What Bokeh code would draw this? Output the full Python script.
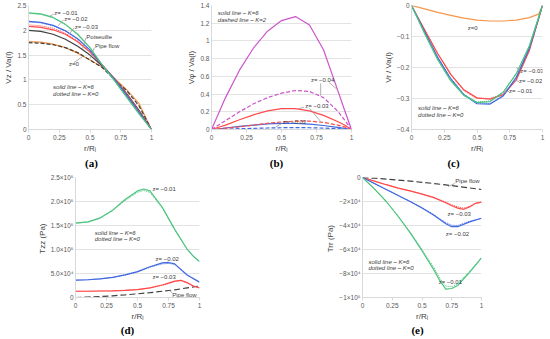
from bokeh.plotting import figure
from bokeh.layouts import row, column
from bokeh.models import Label, FixedTicker, Range1d, Spacer
from bokeh.core.properties import value
from bokeh.embed import file_html
from bokeh.resources import INLINE

FONT = "Liberation Sans"
GREEN = "#4cc47f"
BLUE = "#4169e1"
RED = "#ff4a4a"
ORANGE = "#f7964a"
MAGENTA = "#cc55cc"
DARK = "#404040"

X_TICKS = [0, 0.25, 0.5, 0.75, 1]
X_TICK_LABELS = ["0", "0.25", "0.5", "0.75", "1"]

# ---------------- (a) Vz / Va(l) ----------------
a_r = [0, 0.1, 0.2, 0.3, 0.4, 0.5, 0.6, 0.7, 0.8, 0.9, 1.0]
a_z001_k6 = [2.35, 2.33, 2.26, 2.12, 1.92, 1.65, 1.30, 0.98, 0.64, 0.31, 0]
a_z001_k0 = [2.34, 2.32, 2.25, 2.11, 1.91, 1.64, 1.30, 0.99, 0.65, 0.32, 0]
a_z002_k6 = [2.18, 2.16, 2.10, 1.99, 1.83, 1.60, 1.30, 1.01, 0.68, 0.34, 0]
a_z002_k0 = [2.17, 2.15, 2.09, 1.98, 1.82, 1.60, 1.30, 1.01, 0.69, 0.35, 0]
a_z003_k6 = [2.08, 2.06, 2.01, 1.92, 1.77, 1.56, 1.30, 1.02, 0.70, 0.36, 0]
a_z003_k0 = [2.11, 2.09, 2.04, 1.94, 1.78, 1.57, 1.30, 1.02, 0.70, 0.36, 0]
a_poiseuille = [2.0, 1.98, 1.92, 1.82, 1.68, 1.50, 1.28, 1.02, 0.72, 0.38, 0]
a_pipe = [1.75, 1.74, 1.71, 1.65, 1.55, 1.40, 1.25, 1.00, 0.78, 0.47, 0]
a_z0 = [1.77, 1.76, 1.72, 1.65, 1.54, 1.40, 1.26, 1.03, 0.80, 0.52, 0]
a_yticks = [0, 0.5, 1, 1.5, 2, 2.5]
a_ylabels = ["0", "0.5", "1", "1.5", "2", "2.5"]

# ---------------- (b) Vphi / Va(l) ----------------
b_r = [0, 0.05, 0.1, 0.2, 0.3, 0.4, 0.5, 0.6, 0.7, 0.8, 0.9, 0.95, 1.0]
b_z004_k6 = [0, 0.18, 0.36, 0.67, 0.92, 1.11, 1.23, 1.275, 1.18, 0.90, 0.45, 0.22, 0]
b_z004_k2 = [0, 0.05, 0.10, 0.20, 0.29, 0.36, 0.41, 0.44, 0.43, 0.36, 0.21, 0.11, 0]
b_z003_k6 = [0, 0.025, 0.05, 0.11, 0.165, 0.21, 0.235, 0.235, 0.21, 0.16, 0.09, 0.05, 0]
b_z003_k2 = [0, 0.007, 0.015, 0.03, 0.05, 0.07, 0.085, 0.095, 0.095, 0.08, 0.05, 0.03, 0]
b_z002_k6 = [0, 0.008, 0.017, 0.035, 0.05, 0.063, 0.07, 0.068, 0.06, 0.045, 0.025, 0.013, 0]
b_z002_k2 = [0, 0.002, 0.004, 0.009, 0.013, 0.017, 0.02, 0.021, 0.02, 0.016, 0.01, 0.005, 0]
b_yticks = [0, 0.2, 0.4, 0.6, 0.8, 1.0, 1.2, 1.4]
b_ylabels = ["0", "0.2", "0.4", "0.6", "0.8", "1", "1.2", "1.4"]

# ---------------- (c) Vr / Va(l) ----------------
c_r = [0, 0.1, 0.2, 0.3, 0.4, 0.5, 0.6, 0.7, 0.8, 0.9, 1.0]
c_r0 = [0, 0.1, 0.2, 0.3, 0.4, 0.5, 0.6, 0.7, 0.8, 0.9, 0.97, 1.0]
c_z0 = [0, -0.011, -0.022, -0.032, -0.041, -0.047, -0.050, -0.050, -0.047, -0.039, -0.028, 0]
c_z001_k6 = [0, -0.09, -0.175, -0.243, -0.29, -0.313, -0.31, -0.28, -0.22, -0.13, 0]
c_z001_k0 = [0, -0.089, -0.173, -0.241, -0.288, -0.311, -0.308, -0.279, -0.22, -0.13, 0]
c_z002_k6 = [0, -0.085, -0.168, -0.237, -0.288, -0.317, -0.318, -0.292, -0.232, -0.137, 0]
c_z002_k0 = [0, -0.084, -0.166, -0.235, -0.286, -0.315, -0.316, -0.29, -0.231, -0.137, 0]
c_z003_k6 = [0, -0.078, -0.155, -0.222, -0.272, -0.298, -0.302, -0.288, -0.24, -0.145, 0]
c_z003_k0 = [0, -0.079, -0.157, -0.224, -0.275, -0.300, -0.300, -0.285, -0.236, -0.143, 0]
c_yticks = [-0.4, -0.3, -0.2, -0.1, 0]
c_ylabels = ["\u22120.4", "\u22120.3", "\u22120.2", "\u22120.1", "0"]

# ---------------- (d) Tzz (Pa) ----------------
d_r1 = [0, 0.1, 0.2, 0.3, 0.4, 0.5, 0.55, 0.6, 0.7, 0.8, 0.9, 0.95, 1.0]
d_z001_k6 = [1.55e5, 1.575e5, 1.66e5, 1.82e5, 2.04e5, 2.22e5, 2.26e5, 2.22e5, 1.88e5, 1.42e5, 1.01e5, 0.86e5, 0.75e5]
d_z001_k0 = [1.55e5, 1.57e5, 1.65e5, 1.81e5, 2.02e5, 2.19e5, 2.23e5, 2.19e5, 1.86e5, 1.41e5, 1.0e5, 0.86e5, 0.75e5]
d_r2 = [0, 0.1, 0.2, 0.3, 0.4, 0.5, 0.6, 0.7, 0.75, 0.8, 0.9, 1.0]
d_z002_k6 = [0.36e5, 0.37e5, 0.39e5, 0.42e5, 0.47e5, 0.54e5, 0.64e5, 0.72e5, 0.73e5, 0.70e5, 0.47e5, 0.32e5]
d_z002_k0 = [0.36e5, 0.37e5, 0.39e5, 0.42e5, 0.47e5, 0.53e5, 0.63e5, 0.70e5, 0.71e5, 0.69e5, 0.47e5, 0.32e5]
d_r3 = [0, 0.1, 0.2, 0.3, 0.4, 0.5, 0.6, 0.7, 0.75, 0.8, 0.85, 0.9, 0.95, 1.0]
d_z003_k6 = [0.13e5, 0.13e5, 0.135e5, 0.14e5, 0.15e5, 0.165e5, 0.20e5, 0.26e5, 0.30e5, 0.34e5, 0.36e5, 0.31e5, 0.24e5, 0.20e5]
d_z003_k0 = [0.13e5, 0.13e5, 0.135e5, 0.14e5, 0.15e5, 0.165e5, 0.20e5, 0.255e5, 0.29e5, 0.33e5, 0.345e5, 0.305e5, 0.24e5, 0.20e5]
d_r4 = [0, 0.1, 0.2, 0.3, 0.4, 0.5, 0.6, 0.7, 0.8, 0.9, 1.0]
d_pipe = [0, 0.01e5, 0.02e5, 0.035e5, 0.055e5, 0.077e5, 0.10e5, 0.13e5, 0.16e5, 0.20e5, 0.24e5]
d_yticks = [0, 5e4, 1e5, 1.5e5, 2e5, 2.5e5]
d_ylabels = ["0", "5.0\u00d710\u2074", "1.0\u00d710\u2075", "1.5\u00d710\u2075", "2.0\u00d710\u2075", "2.5\u00d710\u2075"]

# ---------------- (e) Trr (Pa) ----------------
e_r1 = [0, 0.1, 0.2, 0.3, 0.4, 0.5, 0.6, 0.65, 0.7, 0.75, 0.8, 0.9, 1.0]
e_z001_k6 = [0, -0.95e4, -2.0e4, -3.25e4, -4.6e4, -6.1e4, -7.7e4, -8.6e4, -9.3e4, -9.25e4, -9.0e4, -7.9e4, -6.7e4]
e_z001_k0 = [0, -0.95e4, -2.0e4, -3.2e4, -4.55e4, -6.0e4, -7.5e4, -8.4e4, -9.05e4, -9.1e4, -8.85e4, -7.8e4, -6.7e4]
e_z002_k6 = [0, -0.5e4, -1.0e4, -1.5e4, -2.0e4, -2.55e4, -3.15e4, -3.5e4, -3.85e4, -4.1e4, -4.1e4, -3.7e4, -3.4e4]
e_z002_k0 = [0, -0.5e4, -1.0e4, -1.5e4, -2.0e4, -2.5e4, -3.1e4, -3.45e4, -3.75e4, -3.98e4, -4.0e4, -3.65e4, -3.4e4]
e_r3 = [0, 0.1, 0.2, 0.3, 0.4, 0.5, 0.6, 0.7, 0.75, 0.8, 0.85, 0.9, 0.95, 1.0]
e_z003_k6 = [0, -0.3e4, -0.6e4, -0.88e4, -1.12e4, -1.38e4, -1.68e4, -2.1e4, -2.35e4, -2.55e4, -2.65e4, -2.45e4, -2.15e4, -2.05e4]
e_z003_k0 = [0, -0.3e4, -0.6e4, -0.88e4, -1.12e4, -1.37e4, -1.66e4, -2.05e4, -2.28e4, -2.45e4, -2.55e4, -2.4e4, -2.15e4, -2.05e4]
e_r4 = [0, 0.1, 0.2, 0.3, 0.4, 0.5, 0.6, 0.7, 0.8, 0.9, 1.0]
e_pipe = [0, -0.06e4, -0.13e4, -0.21e4, -0.3e4, -0.4e4, -0.5e4, -0.62e4, -0.74e4, -0.87e4, -1.0e4]
e_yticks = [-1e5, -8e4, -6e4, -4e4, -2e4, 0]
e_ylabels = ["\u22121\u00d710\u2075", "\u22128\u00d710\u2074", "\u22126\u00d710\u2074", "\u22124\u00d710\u2074", "\u22122\u00d710\u2074", "0"]

captions_top = ["(a)", "(b)", "(c)"]
captions_bottom = ["(d)", "(e)"]


def base(w, h, yr, yticks, ylabels, ylab, mbl, mbr, mbt, mbb):
    p = figure(width=w, height=h, x_range=Range1d(0, 1), y_range=Range1d(*yr),
               output_backend="svg", toolbar_location=None,
               min_border_left=mbl, min_border_right=mbr, min_border_top=mbt, min_border_bottom=mbb)
    p.outline_line_color = None
    p.xaxis.ticker = FixedTicker(ticks=X_TICKS)
    p.xaxis.major_label_overrides = {t: l for t, l in zip(X_TICKS, X_TICK_LABELS)}
    p.xaxis.axis_label = "r/R\u1d62"
    p.yaxis.ticker = FixedTicker(ticks=yticks)
    p.yaxis.major_label_overrides = {t: l for t, l in zip(yticks, ylabels)}
    p.yaxis.axis_label = ylab
    p.axis.axis_line_color = "#d9d9d9"
    p.axis.minor_tick_line_color = None
    p.axis.minor_tick_out = 0
    p.axis.minor_tick_in = 0
    p.yaxis.major_tick_line_color = None
    p.yaxis.major_tick_out = 0
    p.yaxis.major_tick_in = 0
    p.xaxis.major_tick_line_color = "#d9d9d9"
    p.xaxis.major_tick_out = 3
    p.xaxis.major_tick_in = 0
    p.axis.major_label_text_font = FONT
    p.axis.major_label_text_font_size = "6.5px"
    p.axis.major_label_text_color = "#595959"
    p.axis.axis_label_text_font = FONT
    p.axis.axis_label_text_font_size = "8px"
    p.axis.axis_label_text_font_style = "normal"
    p.axis.axis_label_text_color = "#404040"
    p.axis.axis_label_standoff = 1
    p.axis.major_label_standoff = 2
    p.xgrid.grid_line_color = None
    p.ygrid.grid_line_color = "#e3e3e3"
    return p


def caption_bar(xs, texts, height, ypos):
    c = figure(width=550, height=height, x_range=Range1d(0, 550), y_range=Range1d(0, 1),
               output_backend="svg", toolbar_location=None, x_axis_type=None, y_axis_type=None,
               min_border=0)
    c.outline_line_color = None
    c.grid.visible = False
    c.text(x=xs, y=[ypos] * len(xs), text=texts, text_font=value("Liberation Serif"),
           text_font_size="11px", text_font_style="bold", text_align="center",
           text_baseline="middle", text_color="black")
    return c


def note(p, x, y, text, italic=False):
    p.add_layout(Label(x=x, y=y, text=text, text_font=FONT, text_font_size="6px",
                       text_color="#404040", text_baseline="middle",
                       text_font_style="italic" if italic else "normal"))


def leaders(p, segs):
    p.segment(x0=[s[0] for s in segs], y0=[s[1] for s in segs], x1=[s[2] for s in segs],
              y1=[s[3] for s in segs], line_color="#9a9a9a", line_width=0.8)


LW = 1.2
LWD = 1.0

# (a)
pa = base(183, 155, (0, 2.5), a_yticks, a_ylabels, "Vz / Va(l)", 28, 32, 5, 26)
pa.line(a_r, a_z0, line_color=ORANGE, line_width=LW)
pa.line(a_r, a_pipe, line_color=DARK, line_width=LW, line_dash="4 2")
pa.line(a_r, a_poiseuille, line_color=DARK, line_width=LW)
pa.line(a_r, a_z003_k6, line_color=RED, line_width=LW)
pa.line(a_r, a_z003_k0, line_color=RED, line_width=LWD, line_dash="1 1")
pa.line(a_r, a_z002_k6, line_color=BLUE, line_width=LW)
pa.line(a_r, a_z002_k0, line_color=BLUE, line_width=LWD, line_dash="1 1")
pa.line(a_r, a_z001_k6, line_color=GREEN, line_width=LW)
pa.line(a_r, a_z001_k0, line_color=GREEN, line_width=LWD, line_dash="1 1")
leaders(pa, [(0.205, 2.33, 0.17, 2.28), (0.285, 2.21, 0.24, 2.09), (0.37, 2.05, 0.33, 1.92),
             (0.465, 1.84, 0.44, 1.63), (0.535, 1.65, 0.50, 1.43), (0.37, 1.35, 0.44, 1.47)])
note(pa, 0.21, 2.34, "z= \u22120.01")
note(pa, 0.29, 2.23, "z= \u22120.02")
note(pa, 0.375, 2.07, "z= \u22120.03")
note(pa, 0.47, 1.87, "Poiseuille")
note(pa, 0.54, 1.68, "Pipe flow")
note(pa, 0.33, 1.32, "z=0")
note(pa, 0.2, 0.85, "solid line \u2013 K=6", True)
note(pa, 0.2, 0.71, "dotted line \u2013 K=0", True)

# (b)
pb = base(188, 155, (0, 1.4), b_yticks, b_ylabels, "V\u03c6 / Va(l)", 28, 20, 5, 26)
pb.line(b_r, b_z002_k2, line_color=BLUE, line_width=LW, line_dash="4 2")
pb.line(b_r, b_z002_k6, line_color=BLUE, line_width=LW)
pb.line(b_r, b_z003_k2, line_color=RED, line_width=LW, line_dash="4 2")
pb.line(b_r, b_z003_k6, line_color=RED, line_width=LW)
pb.line(b_r, b_z004_k2, line_color=MAGENTA, line_width=LW, line_dash="4 2")
pb.line(b_r, b_z004_k6, line_color=MAGENTA, line_width=LW)
leaders(pb, [(0.84, 0.53, 0.90, 0.45), (0.78, 0.52, 0.78, 0.38),
             (0.66, 0.25, 0.62, 0.235), (0.70, 0.24, 0.78, 0.09), (0.505, 0.07, 0.46, 0.03)])
note(pb, 0.71, 0.56, "z= \u22120.04")
note(pb, 0.67, 0.27, "z= \u22120.03")
note(pb, 0.51, 0.085, "z= \u22120.02")
note(pb, 0.045, 1.31, "solid line \u2013 K=6", True)
note(pb, 0.045, 1.24, "dashed line \u2013 K=2", True)

# (c)
pc = base(179, 155, (-0.4, 0), c_yticks, c_ylabels, "Vr / Va(l)", 40, 8, 5, 26)
pc.line(c_r0, c_z0, line_color=ORANGE, line_width=LW)
pc.line(c_r, c_z003_k6, line_color=RED, line_width=LW)
pc.line(c_r, c_z003_k0, line_color=RED, line_width=LWD, line_dash="1 1")
pc.line(c_r, c_z002_k6, line_color=BLUE, line_width=LW)
pc.line(c_r, c_z002_k0, line_color=BLUE, line_width=LWD, line_dash="1 1")
pc.line(c_r, c_z001_k6, line_color=GREEN, line_width=LW)
pc.line(c_r, c_z001_k0, line_color=GREEN, line_width=LWD, line_dash="1 1")
leaders(pc, [(0.83, -0.21, 0.80, -0.20), (0.82, -0.245, 0.78, -0.24), (0.745, -0.277, 0.71, -0.28)])
note(pc, 0.43, -0.073, "z=0")
note(pc, 0.83, -0.21, "z= \u22120.03")
note(pc, 0.82, -0.245, "z= \u22120.02")
note(pc, 0.745, -0.277, "z= \u22120.01")
note(pc, 0.05, -0.33, "solid line \u2013 K=6", True)
note(pc, 0.05, -0.352, "dotted line \u2013 K=0", True)

# (d)
pd_ = base(287, 154, (0, 2.5e5), d_yticks, d_ylabels, "Tzz  (Pa)", 42, 121, 4, 26)
pd_.line(d_r4, d_pipe, line_color=DARK, line_width=LW, line_dash="6 3")
pd_.line(d_r3, d_z003_k6, line_color=RED, line_width=LW)
pd_.line(d_r3, d_z003_k0, line_color=RED, line_width=LWD, line_dash="1 1")
pd_.line(d_r2, d_z002_k6, line_color=BLUE, line_width=LW)
pd_.line(d_r2, d_z002_k0, line_color=BLUE, line_width=LWD, line_dash="1 1")
pd_.line(d_r1, d_z001_k6, line_color=GREEN, line_width=LW)
pd_.line(d_r1, d_z001_k0, line_color=GREEN, line_width=LWD, line_dash="1 1")
leaders(pd_, [(0.78, 0.09e5, 0.76, 0.15e5)])
note(pd_, 0.62, 2.27e5, "z= \u22120.01")
note(pd_, 0.645, 0.81e5, "z= \u22120.02")
note(pd_, 0.62, 0.43e5, "z= \u22120.03")
note(pd_, 0.78, 0.06e5, "Pipe flow")
note(pd_, 0.155, 1.35e5, "solid line \u2013 K=6", True)
note(pd_, 0.155, 1.21e5, "dotted line \u2013 K=0", True)

# (e)
pe = base(230, 154, (-1e5, 0), e_yticks, e_ylabels, "Trr  (Pa)", 42, 69, 8, 26)
pe.line(e_r4, e_pipe, line_color=DARK, line_width=LW, line_dash="6 3")
pe.line(e_r3, e_z003_k6, line_color=RED, line_width=LW)
pe.line(e_r3, e_z003_k0, line_color=RED, line_width=LWD, line_dash="1 1")
pe.line(e_r1, e_z002_k6, line_color=BLUE, line_width=LW)
pe.line(e_r1, e_z002_k0, line_color=BLUE, line_width=LWD, line_dash="1 1")
pe.line(e_r1, e_z001_k6, line_color=GREEN, line_width=LW)
pe.line(e_r1, e_z001_k0, line_color=GREEN, line_width=LWD, line_dash="1 1")
leaders(pe, [(0.775, -0.5e4, 0.72, -0.75e4)])
note(pe, 0.78, -0.32e4, "Pipe flow")
note(pe, 0.715, -3.0e4, "z= \u22120.03")
note(pe, 0.70, -4.7e4, "z= \u22120.02")
note(pe, 0.64, -8.7e4, "z= \u22120.01")
note(pe, 0.05, -7.05e4, "solid line \u2013 K=6", True)
note(pe, 0.05, -7.55e4, "dotted line \u2013 K=0", True)

cap1 = caption_bar([91, 276, 453], captions_top, 14, 0.5)
cap2 = caption_bar([127, 417], captions_bottom, 16, 0.6)

layout = column(row(pa, pb, pc), cap1, row(Spacer(width=33, height=154), pd_, pe), cap2)

open("out.html", "w").write(file_html(layout, INLINE))
